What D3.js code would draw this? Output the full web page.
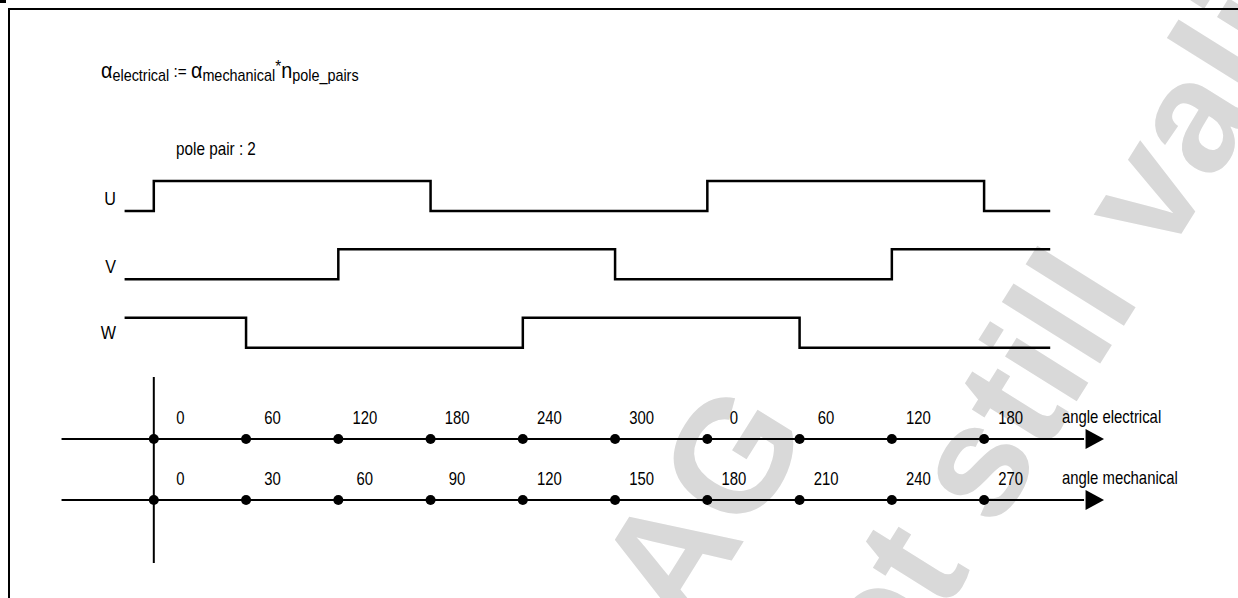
<!DOCTYPE html>
<html>
<head>
<meta charset="utf-8">
<script src="https://cdn.jsdelivr.net/npm/d3@7"></script>
<style>
  body { margin: 0; background: #fff; }
  svg text { font-family: "Liberation Sans", Arial, sans-serif; fill: #000; }
</style>
</head>
<body>
<svg id="chart"></svg>
<script>
// tick labels on the two angle axes
const elecTicks = [0, 60, 120, 180, 240, 300, 0, 60, 120, 180];
const mechTicks = [0, 30, 60, 90, 120, 150, 180, 210, 240, 270];
// electrical angle of every tick (ticks are 60 deg apart electrically)
const tickAngles = [0, 60, 120, 180, 240, 300, 360, 420, 480, 540];

// hall signals: [electrical angle, level] pairs, step after
const phases = ["U", "V", "W"];
const signalU = [[-19, 0], [0, 1], [180, 0], [360, 1], [540, 0], [583, 0]];
const signalV = [[-19, 0], [120, 1], [300, 0], [480, 1], [583, 1]];
const signalW = [[-19, 1], [60, 0], [240, 1], [420, 0], [583, 0]];
const signals = [signalU, signalV, signalW];

const axisNames = ["angle electrical", "angle mechanical"];
const polePairs = 2;

const W = 1238, H = 598;
const svg = d3.select("#chart").attr("width", W).attr("height", H);

const x = d3.scaleLinear().domain([0, 540]).range([153.8, 984.1]);
const xMech = d3.scaleLinear().domain([0, 270]).range([153.8, 984.1]);
const row = d3.scalePoint().domain(phases).range([211, 347.7]);
const level = d3.scaleLinear().domain([0, 1]).range([0, -30]);

const label = (g, px, py, str, size, anchor) =>
  g.append("text")
    .attr("transform", `translate(${px},${py}) scale(0.85,1)`)
    .attr("text-anchor", anchor || "start")
    .attr("font-size", size)
    .text(str);

// watermark
const wm = svg.append("g");
wm.append("text")
  .attr("transform", "translate(812,432) rotate(-58)")
  .attr("text-anchor", "end")
  .attr("font-size", 160).attr("font-weight", "bold")
  .style("fill", "#d9d9d9")
  .text("Infineon Technologies AG");
wm.append("text")
  .attr("transform", "translate(840,780) rotate(-58)")
  .attr("font-size", 160).attr("font-weight", "bold")
  .style("fill", "#d9d9d9")
  .text("not still valid");

// frame
svg.append("rect")
  .attr("x", 9).attr("y", 9).attr("width", W).attr("height", H)
  .attr("fill", "none").attr("stroke", "#000").attr("stroke-width", 2);
svg.append("rect")
  .attr("x", 0).attr("y", 0).attr("width", 6).attr("height", 3)
  .attr("fill", "#000");

// formula
const f = svg.append("text")
  .attr("transform", "translate(101,78) scale(0.9,1)");
f.append("tspan").attr("font-size", 22).text("α");
f.append("tspan").attr("font-size", 16).attr("dy", 3).text("electrical");
f.append("tspan").attr("font-size", 17).attr("dy", -4).text(" := ");
f.append("tspan").attr("font-size", 22).attr("dy", 1).text("α");
f.append("tspan").attr("font-size", 16).attr("dy", 3).text("mechanical");
f.append("tspan").attr("font-size", 17).attr("dy", -9).text("*");
f.append("tspan").attr("font-size", 22).attr("dy", 6).text("n");
f.append("tspan").attr("font-size", 16).attr("dy", 3).text("pole_pairs");

label(svg, 176, 155, `pole pair : ${polePairs}`, 18);

// signals
const line = d3.line()
  .curve(d3.curveStepAfter)
  .x(d => x(d[0]));

const labelDy = [-6, -6, -9];
phases.forEach((p, i) => {
  svg.append("path")
    .datum(signals[i])
    .attr("d", line.y(d => row(p) + level(d[1])))
    .attr("fill", "none")
    .attr("stroke", "#000")
    .attr("stroke-width", 2.5);
  label(svg, 116, row(p) + labelDy[i], p, 19, "end");
});

// angle axes
const axisY = [439, 500];
const axisScales = [x, xMech];
const axisTicks = [elecTicks, mechTicks];

svg.append("line")
  .attr("x1", x(0)).attr("x2", x(0))
  .attr("y1", 377).attr("y2", 563)
  .attr("stroke", "#000").attr("stroke-width", 2);

axisY.forEach((ay, k) => {
  const sc = axisScales[k];
  const g = svg.append("g");
  g.append("line")
    .attr("x1", x(-60)).attr("x2", x(605))
    .attr("y1", ay).attr("y2", ay)
    .attr("stroke", "#000").attr("stroke-width", 2);
  g.append("path")
    .attr("d", `M${x(606)},${ay - 10}L${x(618)},${ay}L${x(606)},${ay + 10}Z`)
    .attr("fill", "#000");
  const vals = k === 0 ? tickAngles : mechTicks;
  g.selectAll("circle")
    .data(vals).enter().append("circle")
    .attr("cx", d => sc(d))
    .attr("cy", ay)
    .attr("r", 5)
    .attr("fill", "#000");
  vals.forEach((v, j) => {
    label(g, sc(v) + 26.5, ay - 15, axisTicks[k][j], 17.5, "middle");
  });
  label(g, 1062, ay - 16, axisNames[k], 17.5);
});
</script>
</body>
</html>
